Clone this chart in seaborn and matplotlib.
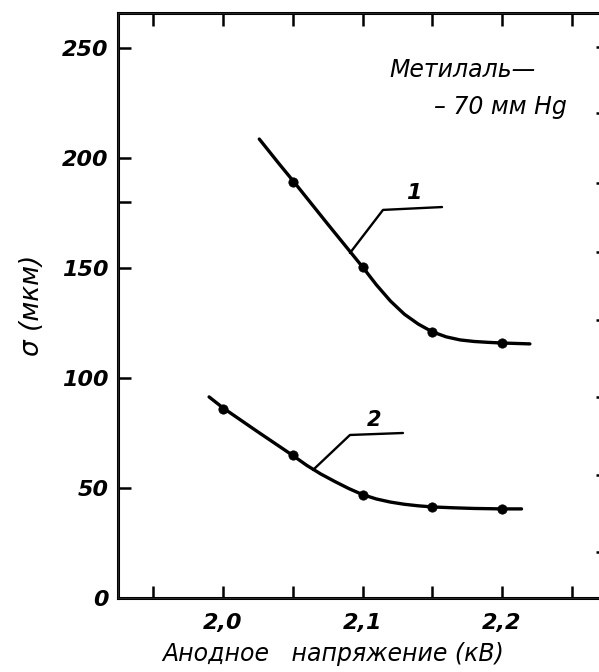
import numpy as np
import pandas as pd
import seaborn as sns
from matplotlib import pyplot as plt
from matplotlib.ticker import FixedLocator, NullFormatter

# measured points (anode voltage kV, sigma um)
x1 = [2.05, 2.10, 2.15, 2.20]
y1 = [189, 150.5, 121, 116]
x2 = [2.00, 2.05, 2.10, 2.15, 2.20]
y2 = [86, 65, 47, 41.4, 40.5]

# hand drawn curves
curve1_x = [2.026, 2.040, 2.051, 2.075, 2.100, 2.110, 2.120, 2.130, 2.140, 2.150,
            2.160, 2.170, 2.180, 2.190, 2.200, 2.220]
curve1_y = [208.6, 197.5, 189.0, 170.0, 150.5, 142.3, 135.0, 129.0, 124.5, 121.0,
            118.7, 117.3, 116.6, 116.2, 115.9, 115.5]
curve2_x = [1.990, 2.000, 2.025, 2.050, 2.060, 2.070, 2.080, 2.090, 2.100, 2.110,
            2.120, 2.130, 2.140, 2.150, 2.165, 2.180, 2.200, 2.214]
curve2_y = [91.4, 86.4, 75.5, 64.8, 60.3, 56.4, 53.0, 49.8, 47.0, 45.0,
            43.6, 42.6, 41.9, 41.4, 41.0, 40.7, 40.5, 40.5]

# leader lines for the curve numbers
lead1_x = [2.091, 2.1147, 2.157]
lead1_y = [156.8, 176.4, 177.7]
lead2_x = [2.0645, 2.091, 2.129]
lead2_y = [58.2, 74.1, 75.0]

xticks_major = [2.0, 2.1, 2.2]
xticks_minor = [1.95, 2.05, 2.15, 2.25]
xticklabels = ['2,0', '2,1', '2,2']
yticks = [0, 50, 100, 150, 200, 250]
yticks_minor = [180]
right_ticks = [250.5, 220.5, 188.6, 157.3, 126.4, 91.4, 55.9, 20.9]

sns.set_style('white')
plt.rcParams['font.family'] = ['DejaVu Sans']
plt.rcParams['text.color'] = 'black'
plt.rcParams['axes.labelcolor'] = 'black'
plt.rcParams['xtick.color'] = 'black'
plt.rcParams['ytick.color'] = 'black'

fig = plt.figure(figsize=(5.99, 6.72), dpi=100)
ax = fig.add_axes([118 / 599, 74 / 672, 484 / 599, 585 / 672])

df1 = pd.DataFrame({'x': curve1_x, 'y': curve1_y})
df2 = pd.DataFrame({'x': curve2_x, 'y': curve2_y})
sns.lineplot(data=df1, x='x', y='y', sort=False, color='black', lw=2.4, ax=ax)
sns.lineplot(data=df2, x='x', y='y', sort=False, color='black', lw=2.4, ax=ax)
sns.scatterplot(x=x1, y=y1, color='black', s=45, edgecolor='black', zorder=5, ax=ax)
sns.scatterplot(x=x2, y=y2, color='black', s=45, edgecolor='black', zorder=5, ax=ax)

ax.plot(lead1_x, lead1_y, color='black', lw=1.7)
ax.plot(lead2_x, lead2_y, color='black', lw=1.7)
ax.text(2.1365, 179.5, '1', fontsize=16, style='italic', fontweight='bold', ha='center', va='bottom')
ax.text(2.108, 76.5, '2', fontsize=15, style='italic', fontweight='bold', ha='center', va='bottom')

ax.text(2.172, 240, 'Метилаль—', fontsize=17, style='italic', ha='center', va='center')
ax.text(2.199, 223, '– 70 мм Hg', fontsize=17, style='italic', ha='center', va='center')

ax.set_xlim(1.9247, 2.2717)
ax.set_ylim(0, 265.9)

ax.xaxis.set_major_locator(FixedLocator(xticks_major))
ax.xaxis.set_minor_locator(FixedLocator(xticks_minor))
ax.set_xticklabels(xticklabels)
ax.yaxis.set_major_locator(FixedLocator(yticks))
ax.yaxis.set_minor_locator(FixedLocator(yticks_minor))

ax.tick_params(axis='both', which='both', direction='in', width=1.8, color='black')
ax.tick_params(axis='x', which='both', top=True, bottom=True, length=9)
ax.tick_params(axis='x', which='major', pad=11)
ax.tick_params(axis='y', which='both', left=True, right=False, length=9, pad=7)
for lab in ax.get_xticklabels() + ax.get_yticklabels():
    lab.set_fontsize(16)
    lab.set_fontstyle('italic')
    lab.set_fontweight('bold')

for side in ['left', 'bottom', 'top', 'right']:
    ax.spines[side].set_visible(True)
    ax.spines[side].set_color('black')
    ax.spines[side].set_linewidth(2.2)

ax.set_xlabel('Анодное   напряжение (кВ)', fontsize=17, style='italic')
ax.xaxis.set_label_coords(0.444, -0.075)
ax.set_ylabel('σ (мкм)', fontsize=19, style='italic')
ax.yaxis.set_label_coords(-0.15, 0.50)

# second scale on the (cut off) right frame: only its tick marks show
ax2 = ax.twinx()
ax2.set_ylim(ax.get_ylim())
ax2.yaxis.set_major_locator(FixedLocator(right_ticks))
ax2.yaxis.set_major_formatter(NullFormatter())
ax2.tick_params(axis='y', direction='in', length=4, width=1.8, right=True, color='black')
ax2.grid(False)

fig.savefig('out.png', dpi=100)
